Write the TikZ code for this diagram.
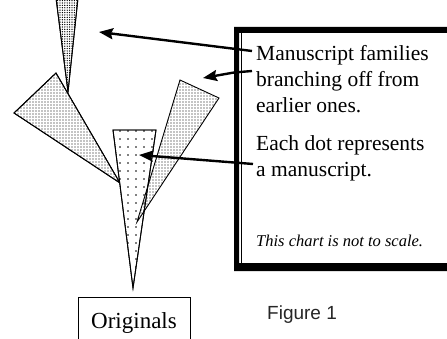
\documentclass[tikz,border=0pt]{standalone}
\usepackage{fontspec}
\setmainfont{Liberation Serif}
\newfontfamily\arialfont{Liberation Sans}
\usetikzlibrary{patterns.meta,arrows.meta}
\begin{document}
\begin{tikzpicture}[x=1pt,y=-1pt,
  wedge/.style={draw=black, line width=0.9pt, line join=miter},
  densedots/.style={pattern={Dots[distance=3pt,radius=0.65pt]}},
  darkdots/.style={pattern={Dots[distance=2.4pt,radius=0.7pt]}},
  sparsedots/.style={pattern={Dots[distance=8pt,radius=0.95pt]}},
  pointer/.style={line width=2.4pt, -{Stealth[length=14pt,width=11pt,inset=2pt]}},
  bodytext/.style={anchor=base west, inner sep=0pt, font=\fontsize{21.5}{26}\selectfont},
]
\useasboundingbox (0,0) rectangle (447,339);
\clip (0,0) rectangle (447,339);
\fill[white] (0,0) rectangle (447,339);

% wedges
\filldraw[wedge, fill=white] (56,-2) -- (78,-2) -- (68,92) -- cycle;
\draw[wedge, darkdots] (56,-2) -- (78,-2) -- (68,92) -- cycle;
\draw[wedge, fill=white] (14,113) -- (56,73) -- (120,183) -- cycle;
\draw[wedge, densedots] (14,113) -- (56,73) -- (120,183) -- cycle;
\draw[wedge, fill=white] (113,130) -- (156,130) -- (133,288) -- cycle;
\draw[wedge, sparsedots] (113,130) -- (156,130) -- (133,288) -- cycle;
\draw[wedge, densedots] (180,80) -- (219,98) -- (137,222) -- cycle;

% frame
\fill[black, even odd rule] (234,27) rectangle (470,271) (239,33) rectangle (460,263);
\draw[line width=1.6pt] (241.5,33) -- (241.5,263);

% texts
\node[bodytext] (t1) at (256,61) {Manuscript families};
\node[bodytext] (t2) at (256,87) {branching off from};
\node[bodytext] (t3) at (256,113) {earlier ones.};
\node[bodytext] (t4) at (256,151) {Each dot represents};
\node[bodytext] (t5) at (256,177) {a manuscript.};
\node[anchor=base west, inner sep=0pt, font=\fontsize{16.5}{20}\selectfont\itshape] (t6) at (256,247) {This chart is not to scale.};

% arrows
\coordinate (s1) at (252,51);
\coordinate (s2) at (252,71);
\coordinate (s3) at (253,164);
\coordinate (e1) at (99,32);
\coordinate (e2) at (203,78);
\coordinate (e3) at (139,155);
\draw[pointer] (s1) -- (e1);
\draw[pointer] (s2) -- (234,72.5) -- (e2);
\draw[pointer] (s3) -- (e3);

% originals box
\node[draw, line width=0.8pt, minimum width=112pt, minimum height=50pt, anchor=north west, inner sep=0pt] (orig) at (78,297) {};
\node[anchor=base, inner sep=0pt, font=\fontsize{23}{26}\selectfont] (origtext) at (134,328) {Originals};

% figure label
\node[anchor=base west, inner sep=0pt, font=\arialfont\fontsize{19}{22}\selectfont, text=black!85] (fig) at (267,319) {Figure 1};
\end{tikzpicture}
\end{document}
